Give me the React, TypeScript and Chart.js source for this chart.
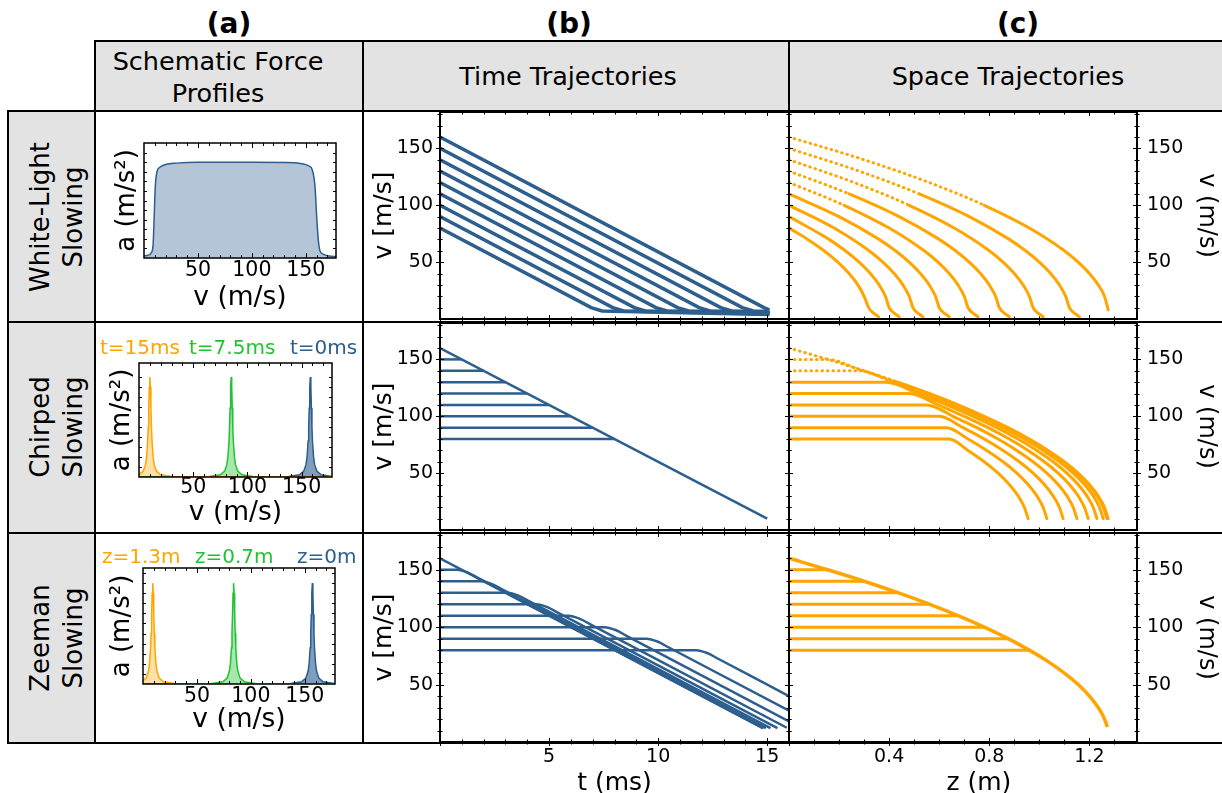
import React, { useEffect, useRef } from 'react';
import { Chart, registerables } from 'chart.js';

Chart.register(...registerables);

const FONT = "'DejaVu Sans', 'Noto Sans', sans-serif";
const BLUE = '#2c5e8e';
const ORANGE = '#ffa500';
const GREEN = '#22c233';
const GREY = '#e3e3e3';

// ---------------- tick labels ----------------
const profileTickLabels = [50, 100, 150];
const velocityTickLabels = [50, 100, 150];
const timeTickLabels = [5, 10, 15];
const spaceTickLabels = [0.4, 0.8, 1.2];

// ---------------- (a) schematic force profiles ----------------
const wlProfileV = [0, 4, 7, 8.5, 9.5, 10.5, 12, 15, 20, 30, 50, 100, 140, 148, 153, 156, 158.5, 160, 161.5, 163, 166, 172, 178];
const wlProfileA = [0.02, 0.03, 0.06, 0.15, 0.45, 0.75, 0.9, 0.95, 0.975, 0.99, 1.0, 1.0, 0.995, 0.98, 0.96, 0.92, 0.75, 0.45, 0.2, 0.08, 0.04, 0.02, 0.015];
const peakOffsets = [-180, -20, -10, -6, -4, -3, -2, -1.5, -1, -0.5, 0, 0.5, 1, 1.5, 2, 3, 4, 6, 10, 20, 180];
const peakShape = [0, 0.006, 0.022, 0.059, 0.123, 0.2, 0.36, 0.5, 0.69, 0.9, 1, 0.9, 0.69, 0.5, 0.36, 0.2, 0.123, 0.059, 0.022, 0.006, 0];
const chirpPeakCenters = [10, 85, 158]; // t=15ms, t=7.5ms, t=0ms
const zeemanPeakCenters = [9, 84, 157]; // z=1.3m, z=0.7m, z=0m
const peakColors = [ORANGE, GREEN, BLUE];
const peakFills = ['rgba(255,165,0,0.35)', 'rgba(34,194,51,0.4)', 'rgba(44,94,142,0.6)'];
const chirpLabels = ['t=15ms', 't=7.5ms', 't=0ms'];
const zeemanLabels = ['z=1.3m', 'z=0.7m', 'z=0m'];

// ---------------- (b) time trajectories ----------------
const initialVelocities = [80, 90, 100, 110, 120, 130, 140, 150, 160];
const wlTimeT = [
  [0, 6.93, 7.43, 15.1],
  [0, 7.92, 8.42, 15.1],
  [0, 8.91, 9.41, 15.1],
  [0, 9.9, 10.4, 15.1],
  [0, 10.89, 11.39, 15.1],
  [0, 11.88, 12.38, 15.1],
  [0, 12.87, 13.37, 15.1],
  [0, 13.86, 14.36, 15.1],
  [0, 14.85, 15.1],
];
const wlTimeV = [
  [80, 10, 7, 4],
  [90, 10, 7, 4.5],
  [100, 10, 7, 5],
  [110, 10, 7, 5],
  [120, 10, 7, 5.5],
  [130, 10, 7, 6],
  [140, 10, 7, 6],
  [150, 10, 7, 6.5],
  [160, 10, 8],
];
const chirpFlatEndT = [8, 7, 6, 5, 4, 3, 2, 1]; // v0 = 80 ... 150
const chirpSweepT = [0, 15];
const chirpSweepV = [160, 10];
const zeemanTimeT = [
  [0, 11.75, 12.25, 12.75, 16],
  [0, 9.47, 9.97, 10.47, 16],
  [0, 7.55, 8.05, 8.55, 16],
  [0, 5.89, 6.39, 6.89, 15.9],
  [0, 4.42, 4.92, 5.42, 15.47],
  [0, 3.1, 3.6, 4.1, 15.15],
  [0, 1.89, 2.39, 2.89, 14.94],
  [0, 0.78, 1.28, 1.78, 14.83],
  [0, 14.8],
];
const zeemanTimeV = [
  [80, 80, 77.5, 72.5, 40],
  [90, 90, 87.5, 82.5, 27.2],
  [100, 100, 97.5, 92.5, 18],
  [110, 110, 107.5, 102.5, 12.4],
  [120, 120, 117.5, 112.5, 12],
  [130, 130, 127.5, 122.5, 12],
  [140, 140, 137.5, 132.5, 12],
  [150, 150, 147.5, 142.5, 12],
  [160, 12],
];

// ---------------- (c) space trajectories ----------------
const wlSpaceZ = [
  [0, 0.075, 0.14, 0.195, 0.24, 0.275, 0.3, 0.318, 0.328, 0.358],
  [0, 0.16, 0.225, 0.28, 0.325, 0.36, 0.385, 0.4, 0.41, 0.44],
  [0, 0.18, 0.32, 0.375, 0.42, 0.455, 0.48, 0.495, 0.505, 0.535],
  [0, 0.2, 0.36, 0.425, 0.48, 0.525, 0.56, 0.585, 0.6, 0.61, 0.64],
  [0, 0.22, 0.4, 0.54, 0.595, 0.64, 0.675, 0.7, 0.715, 0.725, 0.755],
  [0, 0.24, 0.44, 0.6, 0.665, 0.72, 0.765, 0.8, 0.825, 0.84, 0.85, 0.88],
  [0, 0.26, 0.48, 0.66, 0.8, 0.855, 0.9, 0.935, 0.96, 0.975, 0.985, 1.015],
  [0, 0.28, 0.52, 0.72, 0.88, 0.945, 1.0, 1.045, 1.08, 1.105, 1.12, 1.13, 1.16],
  [0, 0.3, 0.56, 0.78, 0.96, 1.1, 1.155, 1.2, 1.235, 1.26, 1.275],
];
const wlSpaceV = [
  [80, 70, 60, 50, 40, 30, 20, 10, 7, 2],
  [90, 70, 60, 50, 40, 30, 20, 10, 7, 2],
  [100, 80, 60, 50, 40, 30, 20, 10, 7, 2],
  [110, 90, 70, 60, 50, 40, 30, 20, 10, 7, 2],
  [120, 100, 80, 60, 50, 40, 30, 20, 10, 7, 2],
  [130, 110, 90, 70, 60, 50, 40, 30, 20, 10, 7, 2],
  [140, 120, 100, 80, 60, 50, 40, 30, 20, 10, 7, 2],
  [150, 130, 110, 90, 70, 60, 50, 40, 30, 20, 10, 7, 2],
  [160, 140, 120, 100, 80, 60, 50, 40, 30, 20, 8],
];
const chirpSpaceZ = [
  [0, 0.64, 0.715, 0.78, 0.835, 0.88, 0.915, 0.94, 0.955],
  [0, 0.63, 0.715, 0.79, 0.855, 0.91, 0.955, 0.99, 1.015, 1.03],
  [0, 0.6, 0.695, 0.78, 0.855, 0.92, 0.975, 1.02, 1.055, 1.08, 1.095],
  [0, 0.55, 0.655, 0.75, 0.835, 0.91, 0.975, 1.03, 1.075, 1.11, 1.135, 1.15],
  [0, 0.48, 0.595, 0.7, 0.795, 0.88, 0.955, 1.02, 1.075, 1.12, 1.155, 1.18, 1.195],
  [0, 0.39, 0.515, 0.63, 0.735, 0.83, 0.915, 0.99, 1.055, 1.11, 1.155, 1.19, 1.215, 1.23],
  [0, 0.28, 0.415, 0.54, 0.655, 0.76, 0.855, 0.94, 1.015, 1.08, 1.135, 1.18, 1.215, 1.24, 1.255],
  [0, 0.15, 0.295, 0.43, 0.555, 0.67, 0.775, 0.87, 0.955, 1.03, 1.095, 1.15, 1.195, 1.23, 1.255, 1.27],
  [0, 0.155, 0.3, 0.435, 0.56, 0.675, 0.78, 0.875, 0.96, 1.035, 1.1, 1.155, 1.2, 1.235, 1.26, 1.275],
];
const chirpSpaceV = [
  [80, 80, 70, 60, 50, 40, 30, 20, 10],
  [90, 90, 80, 70, 60, 50, 40, 30, 20, 10],
  [100, 100, 90, 80, 70, 60, 50, 40, 30, 20, 10],
  [110, 110, 100, 90, 80, 70, 60, 50, 40, 30, 20, 10],
  [120, 120, 110, 100, 90, 80, 70, 60, 50, 40, 30, 20, 10],
  [130, 130, 120, 110, 100, 90, 80, 70, 60, 50, 40, 30, 20, 10],
  [140, 140, 130, 120, 110, 100, 90, 80, 70, 60, 50, 40, 30, 20, 10],
  [150, 150, 140, 130, 120, 110, 100, 90, 80, 70, 60, 50, 40, 30, 20, 10],
  [160, 150, 140, 130, 120, 110, 100, 90, 80, 70, 60, 50, 40, 30, 20, 10],
];
const zeemanEnvZ = [0, 0.155, 0.3, 0.435, 0.56, 0.675, 0.78, 0.875, 0.96, 1.035, 1.1, 1.155, 1.2, 1.235, 1.249, 1.26, 1.2672, 1.2716];
const zeemanEnvV = [160, 150, 140, 130, 120, 110, 100, 90, 80, 70, 60, 50, 40, 30, 25, 20, 16, 13];
const zeemanFlatEndZ = [0.96, 0.875, 0.78, 0.675, 0.56, 0.435, 0.3, 0.155]; // v0 = 80 ... 150

// velocity above which the sampled trajectory points appear as separate dots
const wlDotThreshold = 115;
const chirpDotThreshold = 139;

// ---------------- helpers ----------------
const range = (a: number, b: number, step: number) => {
  const out: number[] = [];
  for (let v = a; v <= b + 1e-9; v += step) out.push(+v.toFixed(6));
  return out;
};
const pts = (xs: number[], ys: number[]) => xs.map((x, i) => ({ x, y: ys[i] }));
const lineDs = (xs: number[], ys: number[], color: string, width: number, smooth = false, fill: any = false, dotAbove?: number) => {
  const ds: any = {
    data: pts(xs, ys),
    borderColor: color,
    backgroundColor: fill || 'transparent',
    borderWidth: width,
    pointRadius: 0,
    showLine: true,
    fill: fill ? 'origin' : false,
    tension: 0,
    cubicInterpolationMode: smooth ? 'monotone' : 'default',
  };
  if (dotAbove !== undefined) {
    ds.borderCapStyle = 'round';
    ds.segment = {
      borderDash: (c: any) => (c.p0.parsed.y > dotAbove ? [0.5, 5] : undefined),
    };
  }
  return ds;
};

type AxisSpec = {
  min: number; max: number;
  labels?: number[]; labelPos?: number; labelSize?: number;
  title?: string; titlePos?: number; titleSize?: number;
  major: number[]; minor: number[];
  position?: 'left' | 'right';
};
type PanelSpec = {
  canvas: [number, number, number, number];
  plot: [number, number, number, number];
  x: AxisSpec; y: AxisSpec;
  datasets: any[];
  tickStyle: 'in' | 'inout';
  frameWidth: number;
};

function framePlugin(spec: PanelSpec) {
  return {
    id: 'frameTicks',
    afterDraw(chart: any) {
      const { ctx, chartArea: a } = chart;
      const xs = chart.scales.x, ys = chart.scales.y;
      const inout = spec.tickStyle === 'inout';
      const maj = inout ? [4, 4] : [5, 0];
      const min = inout ? [2.5, 2.5] : [3, 0];
      ctx.save();
      ctx.strokeStyle = '#000';
      ctx.lineWidth = 1;
      ctx.beginPath();
      const doX = (vals: number[], [li, lo]: number[]) => vals.forEach((v) => {
        if (v < spec.x.min || v > spec.x.max) return;
        const p = Math.round(xs.getPixelForValue(v)) + 0.5;
        ctx.moveTo(p, a.bottom + lo); ctx.lineTo(p, a.bottom - li);
        ctx.moveTo(p, a.top - lo); ctx.lineTo(p, a.top + li);
      });
      const doY = (vals: number[], [li, lo]: number[]) => vals.forEach((v) => {
        if (v < spec.y.min || v > spec.y.max) return;
        const p = Math.round(ys.getPixelForValue(v)) + 0.5;
        ctx.moveTo(a.left - lo, p); ctx.lineTo(a.left + li, p);
        ctx.moveTo(a.right + lo, p); ctx.lineTo(a.right - li, p);
      });
      doX(spec.x.major, maj);
      doX(spec.x.minor.filter((v) => !spec.x.major.includes(v)), min);
      doY(spec.y.major, maj);
      doY(spec.y.minor.filter((v) => !spec.y.major.includes(v)), min);
      ctx.stroke();
      ctx.lineWidth = spec.frameWidth;
      ctx.strokeRect(a.left, a.top, a.right - a.left, a.bottom - a.top);
      ctx.restore();
    },
  };
}

function buildConfig(spec: PanelSpec): any {
  const [cx0, cy0, cx1, cy1] = spec.canvas;
  const [px0, py0, px1, py1] = spec.plot;
  const X = spec.x, Y = spec.y;
  const xShow = !!(X.labels || X.title);
  const yRight = Y.position === 'right';
  const xl = X.labelSize ?? 19, xt = X.titleSize ?? 24;
  const yl = Y.labelSize ?? 19, yt = Y.titleSize ?? 24;
  const zeroPad = (s: any) => { s.paddingLeft = 0; s.paddingRight = 0; s.paddingTop = 0; s.paddingBottom = 0; };
  return {
    type: 'scatter',
    data: { datasets: spec.datasets },
    options: {
      animation: false,
      responsive: false,
      devicePixelRatio: 1,
      events: [],
      layout: {
        padding: {
          top: py0 - cy0,
          bottom: xShow ? 0 : cy1 - py1,
          left: yRight ? px0 - cx0 : 0,
          right: yRight ? 0 : cx1 - px1,
        },
      },
      plugins: { legend: { display: false }, tooltip: { enabled: false } },
      scales: {
        x: {
          type: 'linear', min: X.min, max: X.max, display: xShow,
          grid: { display: false, drawTicks: false }, border: { display: false },
          ticks: {
            display: !!X.labels, autoSkip: false, maxRotation: 0, color: '#000',
            font: { family: FONT, size: xl },
            padding: X.labels ? (X.labelPos as number) - py1 - (xl * 1.2) / 2 : 0,
          },
          title: X.title ? {
            display: true, text: X.title, color: '#000', font: { family: FONT, size: xt },
            padding: { top: 0, bottom: cy1 - (X.titlePos as number) - (xt * 1.2) / 2 },
          } : { display: false },
          afterBuildTicks: (s: any) => { if (X.labels) s.ticks = X.labels.map((v) => ({ value: v })); },
          afterFit: (s: any) => { s.height = cy1 - py1; zeroPad(s); },
        },
        y: {
          type: 'linear', position: yRight ? 'right' : 'left', min: Y.min, max: Y.max, display: true,
          grid: { display: false, drawTicks: false }, border: { display: false },
          ticks: {
            display: !!Y.labels, autoSkip: false, color: '#000',
            font: { family: FONT, size: yl },
            padding: Y.labels ? (yRight ? (Y.labelPos as number) - px1 : px0 - (Y.labelPos as number)) : 0,
          },
          title: Y.title ? {
            display: true, text: Y.title, color: '#000', font: { family: FONT, size: yt },
            padding: {
              top: yRight ? cx1 - (Y.titlePos as number) - (yt * 1.2) / 2 : (Y.titlePos as number) - cx0 - (yt * 1.2) / 2,
              bottom: 0,
            },
          } : { display: false },
          afterBuildTicks: (s: any) => { if (Y.labels) s.ticks = Y.labels.map((v) => ({ value: v })); },
          afterFit: (s: any) => { s.width = yRight ? cx1 - px1 : px0 - cx0; zeroPad(s); },
        },
      },
    },
    plugins: [framePlugin(spec)],
  };
}

// ---------------- panel specs ----------------
const profileX = (labelPos: number, titlePos: number): AxisSpec => ({
  min: 0, max: 178, labels: profileTickLabels, labelPos, labelSize: 20.5,
  title: 'v (m/s)', titlePos, titleSize: 26.5, major: [50, 100, 150], minor: range(10, 170, 10),
});
const profileY = (max: number, titlePos: number): AxisSpec => ({
  min: 0, max, title: 'a (m/s²)', titlePos, titleSize: 26, major: [], minor: range(0.1, max - 0.05, 0.1), position: 'left',
});
const timeX = (withLabels: boolean): AxisSpec => ({
  min: 0, max: 16, major: [0, 5, 10, 15], minor: range(1, 16, 1),
  ...(withLabels ? { labels: timeTickLabels, labelPos: 757, labelSize: 19, title: 't (ms)', titlePos: 783, titleSize: 25 } : {}),
});
const spaceX = (withLabels: boolean): AxisSpec => ({
  min: 0, max: 1.39, major: [0, 0.4, 0.8, 1.2], minor: range(0.1, 1.3, 0.1),
  ...(withLabels ? { labels: spaceTickLabels, labelPos: 757, labelSize: 19, title: '    z (m)', titlePos: 783, titleSize: 25 } : {}),
});
const timeY: AxisSpec = {
  min: 0, max: 182, labels: velocityTickLabels, labelPos: 433, labelSize: 19,
  title: 'v [m/s]', titlePos: 384, titleSize: 25, major: [50, 100, 150], minor: range(10, 180, 10), position: 'left',
};
const spaceY: AxisSpec = {
  min: 0, max: 182, labels: velocityTickLabels, labelPos: 1147, labelSize: 19,
  title: 'v (m/s)', titlePos: 1206, titleSize: 24, major: [50, 100, 150], minor: range(10, 180, 10), position: 'right',
};

const peakDatasets = (centers: number[]) => centers.map((c, i) =>
  lineDs(peakOffsets.map((o) => c + o), peakShape, peakColors[i], 1.5, false, peakFills[i]));

const panels: PanelSpec[] = [
  // (a)
  {
    canvas: [97, 113, 361, 320], plot: [144, 143, 336, 258],
    x: profileX(271, 298), y: profileY(1.2, 127),
    datasets: [lineDs(wlProfileV, wlProfileA, BLUE, 1.5, true, 'rgba(44,94,142,0.36)')],
    tickStyle: 'in', frameWidth: 1.5,
  },
  {
    canvas: [97, 324, 361, 531], plot: [139, 363, 332, 477],
    x: profileX(488, 513), y: profileY(1.14, 122),
    datasets: peakDatasets(chirpPeakCenters),
    tickStyle: 'in', frameWidth: 1.5,
  },
  {
    canvas: [97, 535, 361, 741], plot: [143, 568, 335, 684],
    x: profileX(697, 720), y: profileY(1.15, 122),
    datasets: peakDatasets(zeemanPeakCenters),
    tickStyle: 'in', frameWidth: 1.5,
  },
  // (b)
  {
    canvas: [364, 110, 792, 323], plot: [440, 112, 789, 321],
    x: timeX(false), y: timeY,
    datasets: wlTimeT.map((t, i) => lineDs(t, wlTimeV[i], BLUE, 3.5)),
    tickStyle: 'inout', frameWidth: 2,
  },
  {
    canvas: [364, 321, 792, 534], plot: [440, 323, 789, 532],
    x: timeX(false), y: timeY,
    datasets: [
      ...chirpFlatEndT.map((t, i) => lineDs([0, t], [initialVelocities[i], initialVelocities[i]], BLUE, 2.5)),
      lineDs(chirpSweepT, chirpSweepV, BLUE, 2.5),
    ],
    tickStyle: 'inout', frameWidth: 2,
  },
  {
    canvas: [364, 531, 792, 800], plot: [440, 533, 789, 742],
    x: timeX(true), y: timeY,
    datasets: zeemanTimeT.map((t, i) => lineDs(t, zeemanTimeV[i], BLUE, 2.5, true)),
    tickStyle: 'inout', frameWidth: 2,
  },
  // (c)
  {
    canvas: [787, 110, 1222, 323], plot: [789, 112, 1137, 321],
    x: spaceX(false), y: spaceY,
    datasets: wlSpaceZ.map((z, i) => lineDs(z, wlSpaceV[i], ORANGE, 3, true, false, wlDotThreshold)),
    tickStyle: 'inout', frameWidth: 2,
  },
  {
    canvas: [787, 321, 1222, 534], plot: [789, 323, 1137, 532],
    x: spaceX(false), y: spaceY,
    datasets: chirpSpaceZ.map((z, i) => lineDs(z, chirpSpaceV[i], ORANGE, 3, true, false, chirpDotThreshold)),
    tickStyle: 'inout', frameWidth: 2,
  },
  {
    canvas: [787, 531, 1222, 800], plot: [789, 533, 1137, 742],
    x: spaceX(true), y: spaceY,
    datasets: [
      ...zeemanFlatEndZ.map((z, i) => lineDs([0, z], [initialVelocities[i], initialVelocities[i]], ORANGE, 3)),
      lineDs(zeemanEnvZ, zeemanEnvV, ORANGE, 3.5, true),
    ],
    tickStyle: 'inout', frameWidth: 2,
  },
];

function Panel({ spec }: { spec: PanelSpec }) {
  const ref = useRef<HTMLCanvasElement>(null);
  useEffect(() => {
    const chart = new Chart(ref.current as HTMLCanvasElement, buildConfig(spec));
    return () => chart.destroy();
  }, [spec]);
  const [x0, y0, x1, y1] = spec.canvas;
  return (
    <canvas
      ref={ref}
      width={x1 - x0}
      height={y1 - y0}
      style={{ position: 'absolute', left: x0, top: y0, width: x1 - x0, height: y1 - y0 }}
    />
  );
}

const abs = (extra: React.CSSProperties): React.CSSProperties => ({ position: 'absolute', ...extra });

function HLine({ x0, x1, y, w = 2 }: { x0: number; x1: number; y: number; w?: number }) {
  return <div style={abs({ left: x0 - 1, top: y - w / 2, width: x1 - x0 + 2, height: w, background: '#000' })} />;
}
function VLine({ x, y0, y1, w = 2 }: { x: number; y0: number; y1: number; w?: number }) {
  return <div style={abs({ left: x - w / 2, top: y0 - 1, width: w, height: y1 - y0 + 2, background: '#000' })} />;
}
function CText({ x, y, text, size, bold, color = '#000', lh }: { x: number; y: number; text: string; size: number; bold?: boolean; color?: string; lh?: number }) {
  return (
    <div style={abs({
      left: x, top: y, transform: 'translate(-50%, -50%)', whiteSpace: 'pre', textAlign: 'center',
      fontSize: size, fontWeight: bold ? 'bold' : 'normal', color, lineHeight: `${lh ?? Math.round(size * 1.25)}px`,
    })}>{text}</div>
  );
}
function RowLabel({ y, text }: { y: number; text: string }) {
  return (
    <div style={abs({
      left: 57, top: y, transform: 'translate(-50%, -50%) rotate(-90deg)', whiteSpace: 'pre', textAlign: 'center',
      fontSize: 26, lineHeight: '33px', color: '#000',
    })}>{text}</div>
  );
}
function LText({ x, y, text, color }: { x: number; y: number; text: string; color: string }) {
  return <div style={abs({ left: x, top: y - 12, fontSize: 20, lineHeight: '24px', color, whiteSpace: 'pre' })}>{text}</div>;
}

export default function App() {
  return (
    <div style={abs({ left: 0, top: 0, width: 1222, height: 793, overflow: 'hidden', background: '#fff', fontFamily: FONT })}>
      <div style={abs({ left: 95, top: 41, width: 1127, height: 70, background: GREY })} />
      <div style={abs({ left: 8, top: 111, width: 87, height: 632, background: GREY })} />

      {panels.map((p, i) => <Panel key={i} spec={p} />)}

      <HLine x0={95} x1={1222} y={41} />
      <HLine x0={8} x1={1222} y={111} />
      <HLine x0={8} x1={1222} y={322} />
      <HLine x0={8} x1={1222} y={532.5} />
      <HLine x0={8} x1={1222} y={742.5} />
      <VLine x={8} y0={111} y1={743} />
      <VLine x={95} y0={41} y1={743} />
      <VLine x={363} y0={41} y1={743} />
      <VLine x={789} y0={41} y1={743} />

      <CText x={229} y={23} text="(a)" size={28} bold />
      <CText x={569} y={23} text="(b)" size={28} bold />
      <CText x={1018} y={23} text="(c)" size={28} bold />
      <CText x={218} y={77} text={'Schematic Force\nProfiles'} size={25.5} lh={32} />
      <CText x={568} y={76} text="Time Trajectories" size={25.5} />
      <CText x={1008} y={76} text="Space Trajectories" size={25.5} />

      <RowLabel y={216.5} text={'White-Light\nSlowing'} />
      <RowLabel y={427} text={'Chirped\nSlowing'} />
      <RowLabel y={638} text={'Zeeman\nSlowing'} />

      <LText x={100} y={346.5} text={chirpLabels[0]} color={peakColors[0]} />
      <LText x={189} y={346.5} text={chirpLabels[1]} color={peakColors[1]} />
      <LText x={290} y={346.5} text={chirpLabels[2]} color={peakColors[2]} />
      <LText x={102} y={556} text={zeemanLabels[0]} color={peakColors[0]} />
      <LText x={195} y={556} text={zeemanLabels[1]} color={peakColors[1]} />
      <LText x={297} y={556} text={zeemanLabels[2]} color={peakColors[2]} />
    </div>
  );
}
